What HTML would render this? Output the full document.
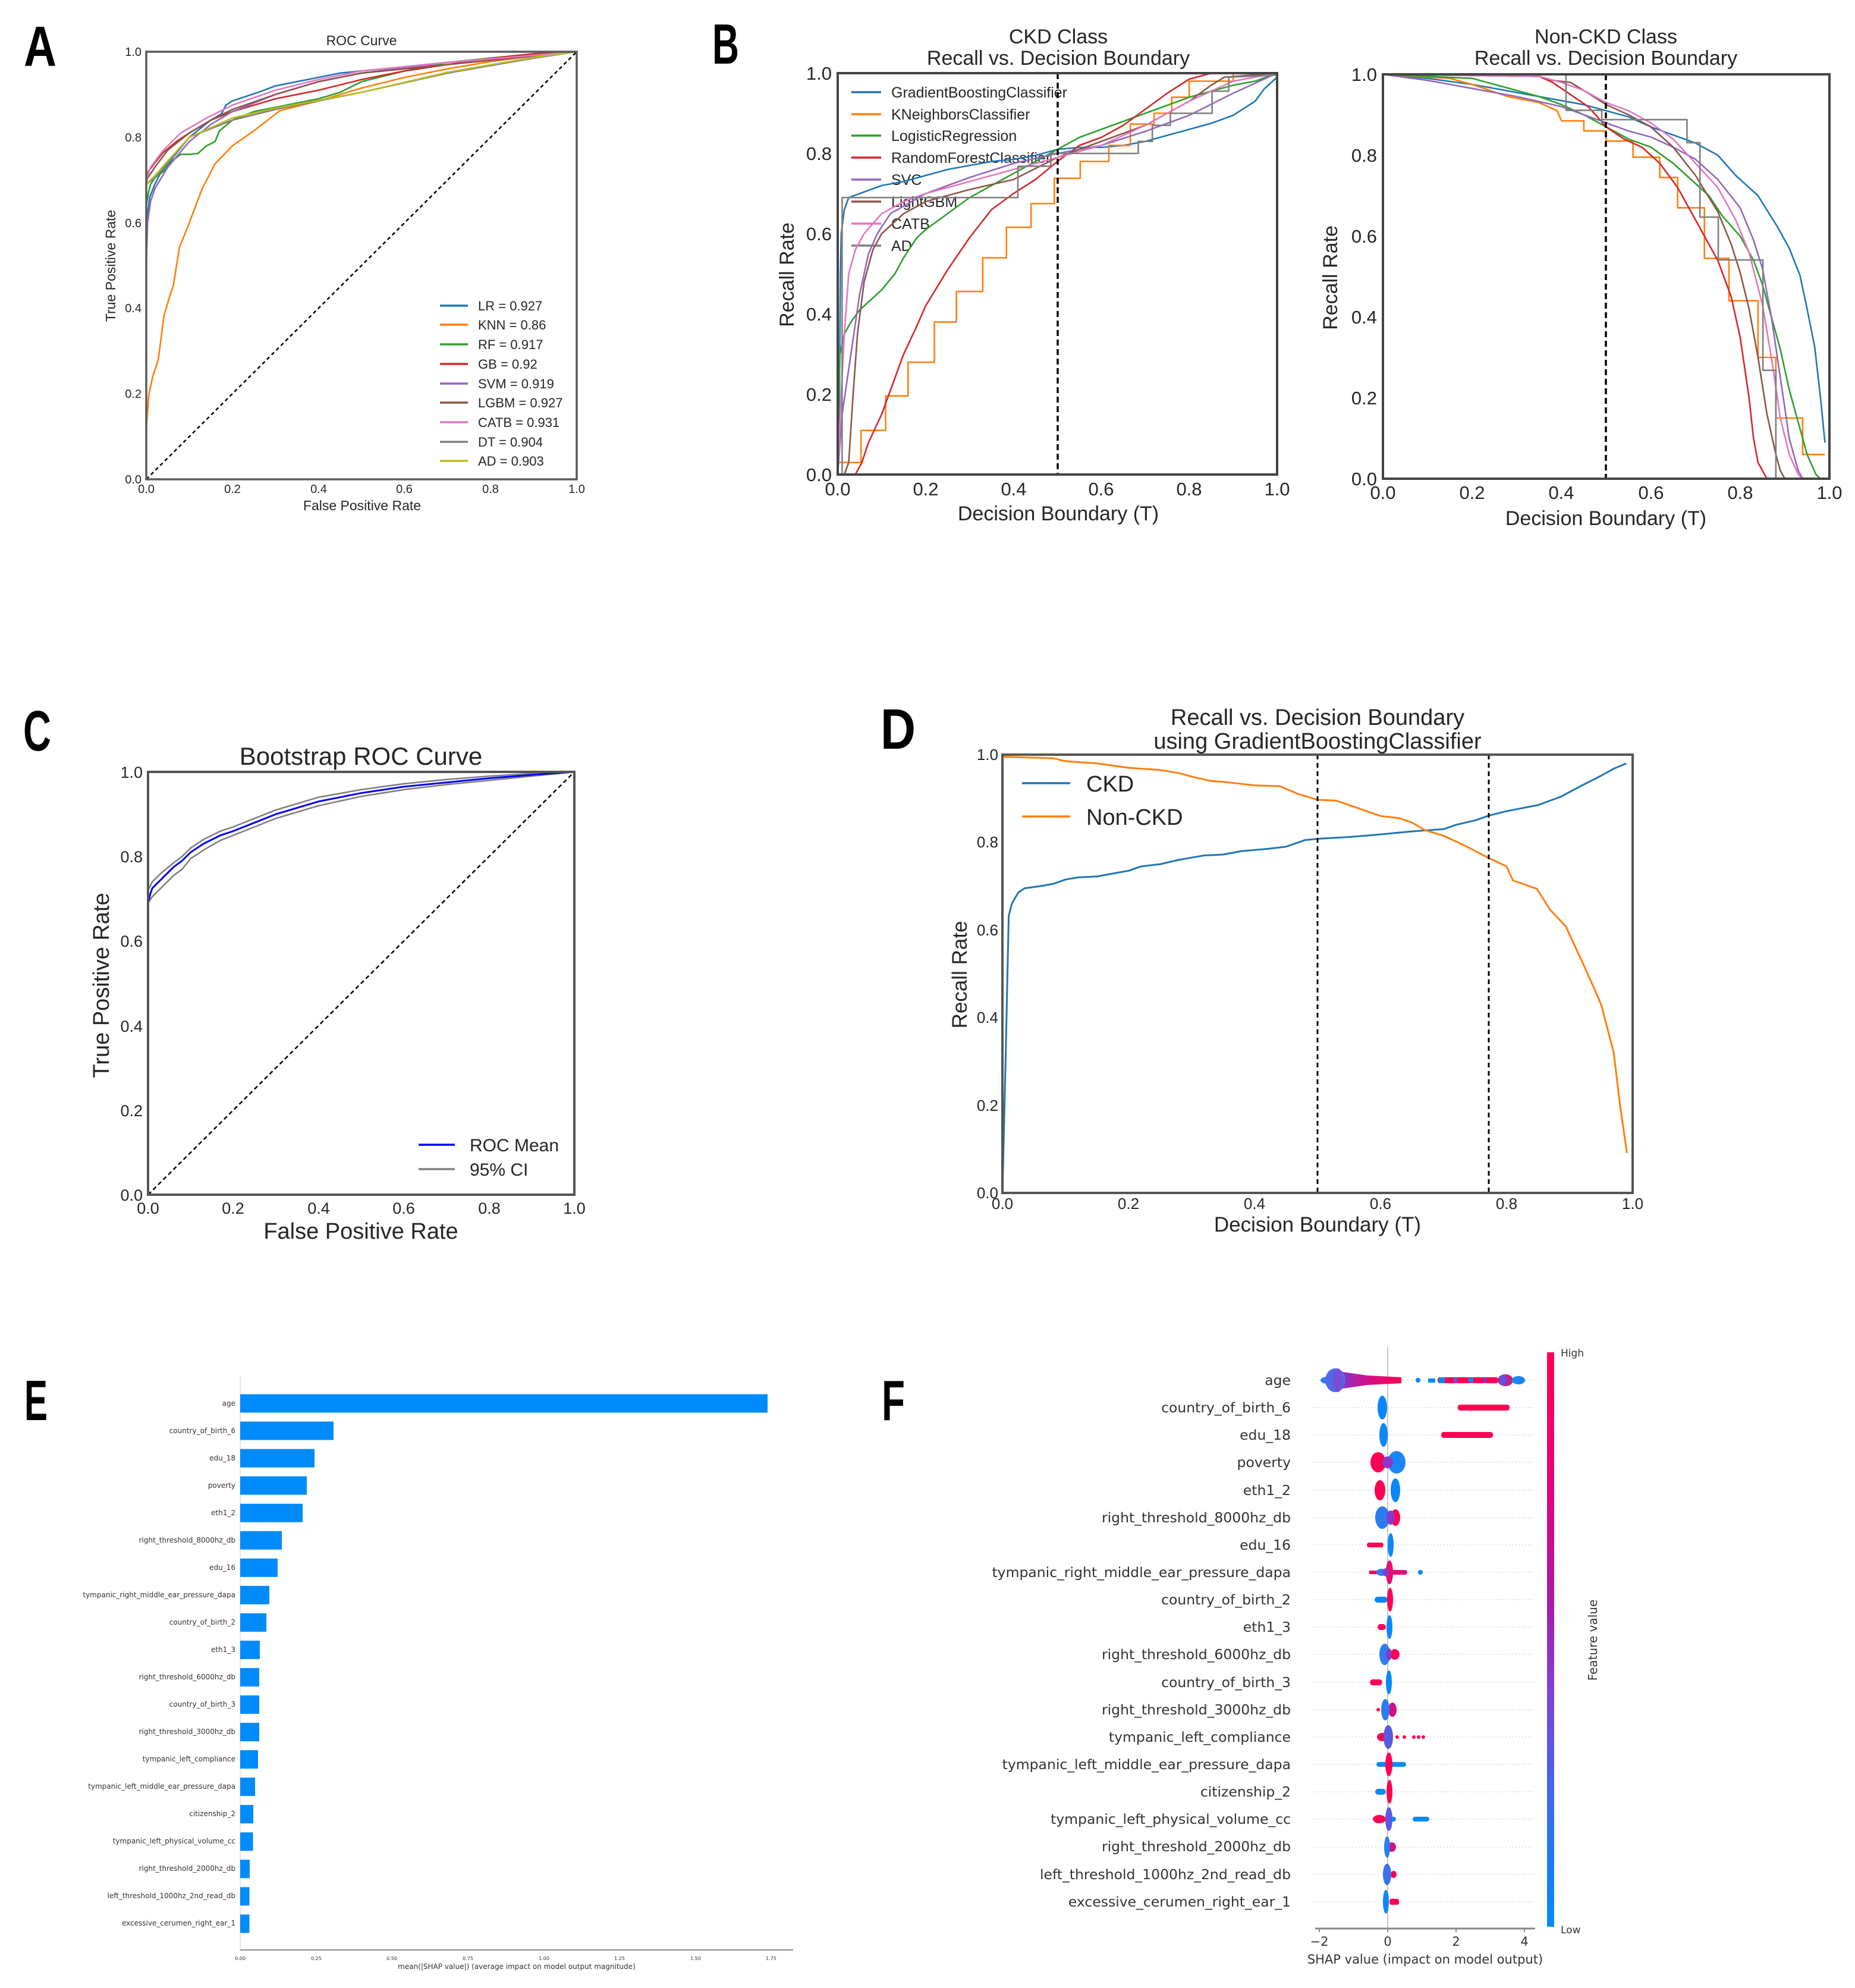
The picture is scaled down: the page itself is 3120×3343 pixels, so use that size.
<!DOCTYPE html>
<html><head><meta charset="utf-8"><style>
html,body{margin:0;padding:0;background:#fff;}
svg{display:block;}
.t{font-family:"Liberation Sans",Arial,sans-serif;fill:#262626;}
.d{font-family:"DejaVu Sans","Liberation Sans",sans-serif;fill:#333;}
.L{font-family:"Liberation Sans",Arial,sans-serif;fill:#000;font-size:96px;font-weight:bold;}
.c{fill:none;stroke-width:2.6;stroke-linejoin:round;vector-effect:non-scaling-stroke;}
</style></head><body>
<svg width="3120" height="3343" viewBox="0 0 3120 3343" xmlns="http://www.w3.org/2000/svg">
<defs>
<linearGradient id="cb" x1="0" y1="0" x2="0" y2="1">
<stop offset="0" stop-color="#ff0052"/><stop offset="0.25" stop-color="#e4007f"/><stop offset="0.45" stop-color="#a41cb0"/><stop offset="0.6" stop-color="#7b45d8"/><stop offset="0.78" stop-color="#3d6bf0"/><stop offset="1" stop-color="#008bfb"/>
</linearGradient>
<linearGradient id="tail" x1="0" y1="0" x2="1" y2="0">
<stop offset="0" stop-color="#8a2fc8"/><stop offset="0.4" stop-color="#d0108a"/><stop offset="1" stop-color="#ff0052"/>
</linearGradient>
</defs>
<rect width="3120" height="3343" fill="#fff"/>

<!-- Panel letters -->
<text class="L" x="40" y="111" textLength="55" lengthAdjust="spacingAndGlyphs">A</text>
<text class="L" x="1198" y="107" textLength="45" lengthAdjust="spacingAndGlyphs">B</text>
<text class="L" x="39" y="1262" textLength="47" lengthAdjust="spacingAndGlyphs">C</text>
<text class="L" x="1481" y="1259" textLength="59" lengthAdjust="spacingAndGlyphs">D</text>
<text class="L" x="41" y="2388" textLength="39" lengthAdjust="spacingAndGlyphs">E</text>
<text class="L" x="1483" y="2388" textLength="39" lengthAdjust="spacingAndGlyphs">F</text>

<!-- ================= PANEL A ================= -->
<text class="t" x="608" y="76" font-size="23" text-anchor="middle">ROC Curve</text>
<g class="t" font-size="20" fill="#444">
<text x="238" y="813" text-anchor="end">0.0</text>
<text x="238" y="669" text-anchor="end">0.2</text>
<text x="238" y="525" text-anchor="end">0.4</text>
<text x="238" y="382" text-anchor="end">0.6</text>
<text x="238" y="238" text-anchor="end">0.8</text>
<text x="238" y="94" text-anchor="end">1.0</text>
<text x="246" y="829" text-anchor="middle">0.0</text>
<text x="391" y="829" text-anchor="middle">0.2</text>
<text x="536" y="829" text-anchor="middle">0.4</text>
<text x="680" y="829" text-anchor="middle">0.6</text>
<text x="825" y="829" text-anchor="middle">0.8</text>
<text x="970" y="829" text-anchor="middle">1.0</text>
</g>
<text class="t" x="609" y="858" font-size="23" text-anchor="middle">False Positive Rate</text>
<text class="t" transform="translate(194,447) rotate(-90)" font-size="23" text-anchor="middle">True Positive Rate</text>
<g transform="translate(246,806) scale(0.724,-0.719)">
<polyline class="c" stroke="#1f77b4" points="0,550 3,620 8,660 20,690 35,720 60,750 100,800 150,840 175,855 185,875 200,885 230,895 260,905 300,920 350,930 400,940 450,950 500,955 600,965 700,975 800,985 900,995 1000,1000"/>
<polyline class="c" stroke="#ff7f0e" points="0,118 6,198 15,240 28,280 41,382 55,430 63,454 77,542 100,600 130,680 160,738 200,780 250,815 310,862 400,885 500,915 600,940 700,960 800,977 900,990 1000,1000"/>
<polyline class="c" stroke="#2ca02c" points="0,640 5,670 10,690 20,705 40,720 60,745 80,760 100,760 120,762 140,780 160,790 170,815 200,840 250,860 300,870 400,890 450,905 500,930 600,955 700,975 800,985 900,995 1000,1000"/>
<polyline class="c" stroke="#d62728" points="0,690 5,720 20,740 40,765 70,790 100,810 150,840 200,860 300,890 400,910 500,935 600,955 700,970 800,985 900,995 1000,1000"/>
<polyline class="c" stroke="#9467bd" points="0,500 3,600 10,650 20,680 50,730 100,790 150,830 200,860 300,900 400,930 500,950 700,975 1000,1000"/>
<polyline class="c" stroke="#8c564b" points="0,700 10,715 20,730 50,770 100,810 150,840 200,865 300,900 400,930 500,950 700,970 1000,1000"/>
<polyline class="c" stroke="#e377c2" points="0,700 10,730 40,770 80,810 140,845 200,875 300,910 400,935 500,955 700,975 1000,1000"/>
<polyline class="c" stroke="#7f7f7f" points="0,690 20,705 50,740 100,800 200,840 300,865 500,905 700,950 900,985 1000,1000"/>
<polyline class="c" stroke="#bcbd22" points="0,690 20,710 50,745 100,800 200,845 300,868 500,905 700,952 900,987 1000,1000"/>
</g>
<line x1="246" y1="806" x2="970" y2="87" stroke="#000" stroke-width="2.5" stroke-dasharray="6,5"/>
<g stroke-width="3.5">
<line x1="740" y1="514" x2="787" y2="514" stroke="#1f77b4"/>
<line x1="740" y1="546" x2="787" y2="546" stroke="#ff7f0e"/>
<line x1="740" y1="579" x2="787" y2="579" stroke="#2ca02c"/>
<line x1="740" y1="612" x2="787" y2="612" stroke="#d62728"/>
<line x1="740" y1="645" x2="787" y2="645" stroke="#9467bd"/>
<line x1="740" y1="677" x2="787" y2="677" stroke="#8c564b"/>
<line x1="740" y1="710" x2="787" y2="710" stroke="#e377c2"/>
<line x1="740" y1="743" x2="787" y2="743" stroke="#7f7f7f"/>
<line x1="740" y1="775" x2="787" y2="775" stroke="#bcbd22"/>
</g>
<g class="t" font-size="22" fill="#333">
<text x="804" y="522">LR = 0.927</text>
<text x="804" y="554">KNN = 0.86</text>
<text x="804" y="587">RF = 0.917</text>
<text x="804" y="620">GB = 0.92</text>
<text x="804" y="653">SVM = 0.919</text>
<text x="804" y="685">LGBM = 0.927</text>
<text x="804" y="718">CATB = 0.931</text>
<text x="804" y="751">DT = 0.904</text>
<text x="804" y="783">AD = 0.903</text>
</g>
<rect x="246" y="87" width="724" height="719" fill="none" stroke="#5a5a5a" stroke-width="3.5"/>

<!-- ================= PANEL B left ================= -->
<text class="t" x="1780" y="73" font-size="34" text-anchor="middle">CKD Class</text>
<text class="t" x="1780" y="109" font-size="34" text-anchor="middle">Recall vs. Decision Boundary</text>
<g class="t" font-size="31" fill="#333">
<text x="1399" y="809" text-anchor="end">0.0</text>
<text x="1399" y="674" text-anchor="end">0.2</text>
<text x="1399" y="539" text-anchor="end">0.4</text>
<text x="1399" y="404" text-anchor="end">0.6</text>
<text x="1399" y="269" text-anchor="end">0.8</text>
<text x="1399" y="134" text-anchor="end">1.0</text>
<text x="1409" y="833" text-anchor="middle">0.0</text>
<text x="1557" y="833" text-anchor="middle">0.2</text>
<text x="1705" y="833" text-anchor="middle">0.4</text>
<text x="1852" y="833" text-anchor="middle">0.6</text>
<text x="2000" y="833" text-anchor="middle">0.8</text>
<text x="2148" y="833" text-anchor="middle">1.0</text>
</g>
<text class="t" x="1780" y="875" font-size="34" text-anchor="middle">Decision Boundary (T)</text>
<text class="t" transform="translate(1335,462) rotate(-90)" font-size="34" text-anchor="middle">Recall Rate</text>
<g class="t" font-size="25" fill="#333">
<text x="1499" y="164">GradientBoostingClassifier</text>
<text x="1499" y="201">KNeighborsClassifier</text>
<text x="1499" y="237">LogisticRegression</text>
<text x="1499" y="274">RandomForestClassifier</text>
<text x="1499" y="311">SVC</text>
<text x="1499" y="348">LightGBM</text>
<text x="1499" y="385">CATB</text>
<text x="1499" y="422">AD</text>
</g>
<g stroke-width="3.5">
<line x1="1432" y1="155" x2="1482" y2="155" stroke="#1f77b4"/>
<line x1="1432" y1="192" x2="1482" y2="192" stroke="#ff7f0e"/>
<line x1="1432" y1="228" x2="1482" y2="228" stroke="#2ca02c"/>
<line x1="1432" y1="265" x2="1482" y2="265" stroke="#d62728"/>
<line x1="1432" y1="302" x2="1482" y2="302" stroke="#9467bd"/>
<line x1="1432" y1="339" x2="1482" y2="339" stroke="#8c564b"/>
<line x1="1432" y1="376" x2="1482" y2="376" stroke="#e377c2"/>
<line x1="1432" y1="413" x2="1482" y2="413" stroke="#7f7f7f"/>
</g>
<g transform="translate(1409,798) scale(0.739,-0.675)">
<polyline class="c" stroke="#1f77b4" points="0,0 4,200 6,500 8,600 15,660 25,690 50,700 100,720 150,730 200,745 250,760 300,770 350,780 400,785 450,795 500,810 550,815 600,815 650,820 700,830 750,845 800,860 850,875 900,895 950,930 970,960 1000,990"/>
<polyline class="c" stroke="#ff7f0e" points="0,30 53,30 53,110 109,110 109,196 160,196 160,280 220,280 220,380 270,380 270,456 330,456 330,540 384,540 384,616 440,616 440,675 493,675 493,738 552,738 552,780 617,780 617,820 666,820 666,873 720,873 720,900 760,900 760,940 800,940 800,980 900,980 900,1000 1000,1000"/>
<polyline class="c" stroke="#2ca02c" points="0,0 3,200 5,300 15,350 30,380 50,410 80,440 100,460 130,500 150,540 180,590 200,610 250,650 300,690 350,720 400,750 450,780 500,810 550,840 600,860 650,880 700,900 750,920 800,940 850,955 900,970 950,980 1000,1000"/>
<polyline class="c" stroke="#d62728" points="40,0 55,30 70,80 100,150 130,240 150,300 180,370 200,420 250,510 300,590 350,660 400,700 450,735 500,780 550,820 600,840 650,870 700,910 750,950 800,985 850,1000 1000,1000"/>
<polyline class="c" stroke="#9467bd" points="0,0 10,150 30,300 50,450 70,550 90,600 120,650 200,700 300,740 400,775 500,800 600,820 700,855 800,895 900,950 1000,1000"/>
<polyline class="c" stroke="#8c564b" points="15,0 25,30 35,200 45,350 60,480 80,560 100,600 150,650 200,680 300,710 400,735 500,790 600,830 700,870 800,930 850,970 880,990 1000,1000"/>
<polyline class="c" stroke="#e377c2" points="0,0 8,200 15,350 25,500 40,560 60,600 100,650 150,680 200,700 300,730 400,760 500,790 600,820 700,870 800,930 900,980 1000,1000"/>
<polyline class="c" stroke="#7f7f7f" points="10,0 10,690 410,690 410,768 485,768 485,800 684,800 684,830 716,830 716,870 757,870 757,900 852,900 852,955 890,955 890,990 1000,995"/>
</g>
<line x1="1779" y1="123" x2="1779" y2="798" stroke="#000" stroke-width="3.5" stroke-dasharray="10,6"/>
<rect x="1409" y="123" width="739" height="675" fill="none" stroke="#444" stroke-width="4"/>

<!-- ================= PANEL B right ================= -->
<text class="t" x="2701" y="73" font-size="34" text-anchor="middle">Non-CKD Class</text>
<text class="t" x="2701" y="109" font-size="34" text-anchor="middle">Recall vs. Decision Boundary</text>
<g class="t" font-size="31" fill="#333">
<text x="2316" y="816" text-anchor="end">0.0</text>
<text x="2316" y="680" text-anchor="end">0.2</text>
<text x="2316" y="544" text-anchor="end">0.4</text>
<text x="2316" y="408" text-anchor="end">0.6</text>
<text x="2316" y="272" text-anchor="end">0.8</text>
<text x="2316" y="136" text-anchor="end">1.0</text>
<text x="2326" y="839" text-anchor="middle">0.0</text>
<text x="2476" y="839" text-anchor="middle">0.2</text>
<text x="2626" y="839" text-anchor="middle">0.4</text>
<text x="2777" y="839" text-anchor="middle">0.6</text>
<text x="2927" y="839" text-anchor="middle">0.8</text>
<text x="3077" y="839" text-anchor="middle">1.0</text>
</g>
<text class="t" x="2701" y="883" font-size="34" text-anchor="middle">Decision Boundary (T)</text>
<text class="t" transform="translate(2249,467) rotate(-90)" font-size="34" text-anchor="middle">Recall Rate</text>
<g transform="translate(2326,805) scale(0.751,-0.680)">
<polyline class="c" stroke="#1f77b4" points="0,1000 100,990 200,975 300,955 400,935 450,925 500,910 550,895 600,870 650,850 700,830 750,800 790,750 840,700 884,622 910,570 934,503 950,420 967,326 980,200 990,89"/>
<polyline class="c" stroke="#ff7f0e" points="0,1000 150,990 200,975 280,945 350,930 390,910 400,885 450,885 450,860 500,860 500,835 560,835 560,795 620,795 620,745 660,745 660,670 720,670 720,545 775,545 775,440 840,440 840,300 880,300 880,150 940,150 940,60 990,60"/>
<polyline class="c" stroke="#2ca02c" points="0,1000 200,990 250,975 300,960 350,945 400,925 450,900 500,870 550,840 600,820 650,780 700,730 730,700 760,650 800,600 830,540 850,480 870,400 890,320 910,220 930,140 950,60 970,10 980,0"/>
<polyline class="c" stroke="#d62728" points="0,1000 350,995 380,980 420,950 460,920 500,870 540,840 580,820 620,780 660,720 700,640 730,580 750,540 780,450 800,350 820,200 830,100 840,40 860,0"/>
<polyline class="c" stroke="#9467bd" points="0,1000 100,985 200,965 300,945 400,920 450,900 500,880 550,860 600,845 650,820 700,790 750,740 800,670 830,590 850,520 870,400 890,250 910,100 930,20 940,0"/>
<polyline class="c" stroke="#8c564b" points="0,1000 350,995 380,985 420,980 450,960 500,925 550,900 600,870 650,820 700,750 750,660 780,580 800,510 820,420 840,300 860,160 880,60 890,20 900,0"/>
<polyline class="c" stroke="#e377c2" points="0,1000 350,995 400,980 450,960 500,930 550,910 600,880 650,840 700,780 750,720 790,640 820,560 850,430 870,300 890,150 910,60 930,10 940,0"/>
<polyline class="c" stroke="#7f7f7f" points="0,1000 410,1000 410,911 490,911 490,888 681,888 681,831 710,831 710,647 751,647 751,541 851,541 851,268 880,268 880,0"/>
</g>
<line x1="2701" y1="125" x2="2701" y2="805" stroke="#000" stroke-width="3.5" stroke-dasharray="10,6"/>
<rect x="2326" y="125" width="751" height="680" fill="none" stroke="#444" stroke-width="4"/>

<!-- ================= PANEL C ================= -->
<text class="t" x="607" y="1286" font-size="42" text-anchor="middle">Bootstrap ROC Curve</text>
<g class="t" font-size="27" fill="#333">
<text x="240" y="2019" text-anchor="end">0.0</text>
<text x="240" y="1877" text-anchor="end">0.2</text>
<text x="240" y="1735" text-anchor="end">0.4</text>
<text x="240" y="1592" text-anchor="end">0.6</text>
<text x="240" y="1450" text-anchor="end">0.8</text>
<text x="240" y="1308" text-anchor="end">1.0</text>
<text x="249" y="2041" text-anchor="middle">0.0</text>
<text x="392" y="2041" text-anchor="middle">0.2</text>
<text x="536" y="2041" text-anchor="middle">0.4</text>
<text x="679" y="2041" text-anchor="middle">0.6</text>
<text x="823" y="2041" text-anchor="middle">0.8</text>
<text x="966" y="2041" text-anchor="middle">1.0</text>
</g>
<text class="t" x="607" y="2083" font-size="38" text-anchor="middle">False Positive Rate</text>
<text class="t" transform="translate(183,1657) rotate(-90)" font-size="38" text-anchor="middle">True Positive Rate</text>
<g transform="translate(249,2009) scale(0.717,-0.711)">
<polyline class="c" stroke="#808080" points="0,720 10,740 30,760 60,785 80,800 100,820 130,840 170,860 200,870 250,890 300,910 400,940 500,958 600,972 700,982 800,990 900,996 1000,1000"/>
<polyline class="c" stroke="#808080" points="0,690 10,705 30,725 60,755 80,770 100,795 130,815 170,838 200,850 250,870 300,890 400,920 500,942 600,958 700,970 800,980 900,990 1000,1000"/>
<polyline class="c" stroke="#0000ff" style="stroke-width:3" points="0,690 5,710 10,725 20,735 40,755 60,775 80,790 100,810 130,830 170,850 200,860 250,880 300,900 350,915 400,930 450,940 500,950 600,965 700,975 800,985 900,993 1000,1000"/>
</g>
<line x1="249" y1="2009" x2="966" y2="1298" stroke="#000" stroke-width="2.5" stroke-dasharray="7,5"/>
<line x1="704" y1="1925" x2="765" y2="1925" stroke="#0000ff" stroke-width="3.5"/>
<line x1="704" y1="1966" x2="765" y2="1966" stroke="#808080" stroke-width="3.5"/>
<text class="t" x="790" y="1936" font-size="30" fill="#333">ROC Mean</text>
<text class="t" x="790" y="1977" font-size="30" fill="#333">95% CI</text>
<rect x="249" y="1298" width="717" height="711" fill="none" stroke="#555" stroke-width="4"/>

<!-- ================= PANEL D ================= -->
<text class="t" x="2216" y="1219" font-size="38" text-anchor="middle">Recall vs. Decision Boundary</text>
<text class="t" x="2216" y="1259" font-size="38" text-anchor="middle">using GradientBoostingClassifier</text>
<g class="t" font-size="26" fill="#333">
<text x="1679" y="2015" text-anchor="end">0.0</text>
<text x="1679" y="1868" text-anchor="end">0.2</text>
<text x="1679" y="1720" text-anchor="end">0.4</text>
<text x="1679" y="1573" text-anchor="end">0.6</text>
<text x="1679" y="1425" text-anchor="end">0.8</text>
<text x="1679" y="1278" text-anchor="end">1.0</text>
<text x="1686" y="2033" text-anchor="middle">0.0</text>
<text x="1898" y="2033" text-anchor="middle">0.2</text>
<text x="2110" y="2033" text-anchor="middle">0.4</text>
<text x="2322" y="2033" text-anchor="middle">0.6</text>
<text x="2534" y="2033" text-anchor="middle">0.8</text>
<text x="2746" y="2033" text-anchor="middle">1.0</text>
</g>
<text class="t" x="2216" y="2071" font-size="35" text-anchor="middle">Decision Boundary (T)</text>
<text class="t" transform="translate(1626,1639) rotate(-90)" font-size="35" text-anchor="middle">Recall Rate</text>
<g transform="translate(1686,2006) scale(1.060,-0.737)">
<polyline class="c" stroke="#1f77b4" style="stroke-width:3" points="0,0 5,300 10,632 15,660 25,685 35,695 60,700 80,705 100,715 120,720 150,722 180,730 200,735 220,745 250,750 280,760 300,765 320,770 350,772 380,780 420,785 450,790 480,805 500,808 550,812 600,818 650,825 700,830 720,840 750,850 772,861 800,871 850,885 886,904 920,930 950,952 970,968 990,980"/>
<polyline class="c" stroke="#ff7f0e" style="stroke-width:3" points="0,995 80,992 100,985 150,980 200,970 250,965 280,958 300,950 330,940 350,938 400,930 440,928 470,910 500,897 530,895 560,880 600,860 630,855 650,845 670,828 700,815 730,795 772,764 800,745 810,713 848,694 869,646 894,608 928,502 950,430 970,320 980,200 991,91"/>
</g>
<line x1="2216" y1="1269" x2="2216" y2="2006" stroke="#000" stroke-width="3" stroke-dasharray="8,6"/>
<line x1="2504" y1="1269" x2="2504" y2="2006" stroke="#000" stroke-width="3" stroke-dasharray="8,6"/>
<line x1="1719" y1="1317" x2="1800" y2="1317" stroke="#1f77b4" stroke-width="3.5"/>
<line x1="1719" y1="1373" x2="1800" y2="1373" stroke="#ff7f0e" stroke-width="3.5"/>
<text class="t" x="1827" y="1331" font-size="38">CKD</text>
<text class="t" x="1827" y="1387" font-size="38">Non-CKD</text>
<rect x="1686" y="1269" width="1060" height="737" fill="none" stroke="#555" stroke-width="4"/>

<!-- ================= PANEL E ================= -->
<line x1="404" y1="2314" x2="404" y2="3279" stroke="#ddd" stroke-width="1.5"/>
<g fill="#008bfb">
<rect x="404" y="2344.5" width="887" height="31"/>
<rect x="404" y="2390.5" width="157" height="31"/>
<rect x="404" y="2436.6" width="125" height="31"/>
<rect x="404" y="2482.6" width="112" height="31"/>
<rect x="404" y="2528.7" width="105" height="31"/>
<rect x="404" y="2574.7" width="70" height="31"/>
<rect x="404" y="2620.8" width="63" height="31"/>
<rect x="404" y="2666.8" width="49" height="31"/>
<rect x="404" y="2712.9" width="44" height="31"/>
<rect x="404" y="2758.9" width="33" height="31"/>
<rect x="404" y="2805" width="32" height="31"/>
<rect x="404" y="2851" width="32" height="31"/>
<rect x="404" y="2897.1" width="32" height="31"/>
<rect x="404" y="2943.1" width="30" height="31"/>
<rect x="404" y="2989.2" width="25" height="31"/>
<rect x="404" y="3035.2" width="22" height="31"/>
<rect x="404" y="3081.3" width="21.5" height="31"/>
<rect x="404" y="3127.3" width="16" height="31"/>
<rect x="404" y="3173.4" width="15.5" height="31"/>
<rect x="404" y="3219.4" width="15.5" height="31"/>
</g>
<g class="d" font-size="12" text-anchor="end" fill="#444">
<text x="396" y="2364">age</text>
<text x="396" y="2410">country_of_birth_6</text>
<text x="396" y="2456">edu_18</text>
<text x="396" y="2502">poverty</text>
<text x="396" y="2548">eth1_2</text>
<text x="396" y="2594">right_threshold_8000hz_db</text>
<text x="396" y="2640">edu_16</text>
<text x="396" y="2686">tympanic_right_middle_ear_pressure_dapa</text>
<text x="396" y="2732">country_of_birth_2</text>
<text x="396" y="2778">eth1_3</text>
<text x="396" y="2824">right_threshold_6000hz_db</text>
<text x="396" y="2870">country_of_birth_3</text>
<text x="396" y="2916">right_threshold_3000hz_db</text>
<text x="396" y="2962">tympanic_left_compliance</text>
<text x="396" y="3008">tympanic_left_middle_ear_pressure_dapa</text>
<text x="396" y="3054">citizenship_2</text>
<text x="396" y="3100">tympanic_left_physical_volume_cc</text>
<text x="396" y="3146">right_threshold_2000hz_db</text>
<text x="396" y="3192">left_threshold_1000hz_2nd_read_db</text>
<text x="396" y="3238">excessive_cerumen_right_ear_1</text>
</g>
<line x1="404" y1="3279" x2="1334" y2="3279" stroke="#999" stroke-width="2.5"/>
<g class="d" font-size="8" text-anchor="middle" fill="#444">
<text x="404" y="3296">0.00</text>
<text x="532" y="3296">0.25</text>
<text x="659" y="3296">0.50</text>
<text x="787" y="3296">0.75</text>
<text x="915" y="3296">1.00</text>
<text x="1042" y="3296">1.25</text>
<text x="1170" y="3296">1.50</text>
<text x="1297" y="3296">1.75</text>
</g>
<text class="d" x="869" y="3311" font-size="12" text-anchor="middle" fill="#333">mean(|SHAP value|) (average impact on model output magnitude)</text>

<!-- ================= PANEL F ================= -->
<g class="d" font-size="23.5" text-anchor="end" fill="#333">
<text x="2171" y="2329">age</text>
<text x="2171" y="2375">country_of_birth_6</text>
<text x="2171" y="2421">edu_18</text>
<text x="2171" y="2467">poverty</text>
<text x="2171" y="2514">eth1_2</text>
<text x="2171" y="2560">right_threshold_8000hz_db</text>
<text x="2171" y="2606">edu_16</text>
<text x="2171" y="2652">tympanic_right_middle_ear_pressure_dapa</text>
<text x="2171" y="2698">country_of_birth_2</text>
<text x="2171" y="2744">eth1_3</text>
<text x="2171" y="2790">right_threshold_6000hz_db</text>
<text x="2171" y="2837">country_of_birth_3</text>
<text x="2171" y="2883">right_threshold_3000hz_db</text>
<text x="2171" y="2929">tympanic_left_compliance</text>
<text x="2171" y="2975">tympanic_left_middle_ear_pressure_dapa</text>
<text x="2171" y="3021">citizenship_2</text>
<text x="2171" y="3067">tympanic_left_physical_volume_cc</text>
<text x="2171" y="3113">right_threshold_2000hz_db</text>
<text x="2171" y="3160">left_threshold_1000hz_2nd_read_db</text>
<text x="2171" y="3206">excessive_cerumen_right_ear_1</text>
</g>
<g stroke="#ccc" stroke-width="1.5" stroke-dasharray="1.5,4">
<line x1="2208" y1="2321" x2="2580" y2="2321"/><line x1="2208" y1="2367" x2="2580" y2="2367"/>
<line x1="2208" y1="2413" x2="2580" y2="2413"/><line x1="2208" y1="2459" x2="2580" y2="2459"/>
<line x1="2208" y1="2506" x2="2580" y2="2506"/><line x1="2208" y1="2552" x2="2580" y2="2552"/>
<line x1="2208" y1="2598" x2="2580" y2="2598"/><line x1="2208" y1="2644" x2="2580" y2="2644"/>
<line x1="2208" y1="2690" x2="2580" y2="2690"/><line x1="2208" y1="2736" x2="2580" y2="2736"/>
<line x1="2208" y1="2782" x2="2580" y2="2782"/><line x1="2208" y1="2829" x2="2580" y2="2829"/>
<line x1="2208" y1="2875" x2="2580" y2="2875"/><line x1="2208" y1="2921" x2="2580" y2="2921"/>
<line x1="2208" y1="2967" x2="2580" y2="2967"/><line x1="2208" y1="3013" x2="2580" y2="3013"/>
<line x1="2208" y1="3059" x2="2580" y2="3059"/><line x1="2208" y1="3106" x2="2580" y2="3106"/>
<line x1="2208" y1="3152" x2="2580" y2="3152"/><line x1="2208" y1="3198" x2="2580" y2="3198"/>
</g>
<line x1="2334" y1="2265" x2="2334" y2="3243" stroke="#c8c8c8" stroke-width="2"/>
<!-- age -->
<ellipse cx="2232" cy="2321" rx="11" ry="6" fill="#2c7ef2"/>
<polygon points="2258,2307 2300,2313 2357,2316 2357,2326 2300,2329 2258,2335" fill="url(#tail)"/>
<ellipse cx="2246" cy="2321" rx="17" ry="20" fill="#4d6ae8"/>
<ellipse cx="2250" cy="2321" rx="8" ry="20" fill="#7a4fd8"/>
<circle cx="2385" cy="2321" r="4" fill="#008bfb"/>
<rect x="2402" y="2318" width="12" height="7" fill="#008bfb"/>
<rect x="2418" y="2316" width="102" height="10" rx="4" fill="#ff0052"/>
<rect x="2420" y="2316" width="10" height="10" fill="#008bfb"/>
<rect x="2445" y="2317" width="6" height="8" fill="#5a5ae0"/>
<rect x="2470" y="2317" width="8" height="8" fill="#008bfb"/>
<rect x="2495" y="2317" width="5" height="8" fill="#7040d8"/>
<ellipse cx="2532" cy="2321" rx="13" ry="10" fill="#c0208a"/>
<ellipse cx="2528" cy="2321" rx="6" ry="9" fill="#6050e0"/>
<ellipse cx="2554" cy="2321" rx="11" ry="7" fill="#1b86f8"/>
<!-- cob6 -->
<ellipse cx="2325" cy="2367" rx="8" ry="20" fill="#0a88fa"/>
<rect x="2452" y="2362" width="87" height="10" rx="4" fill="#ff0052"/>
<!-- edu18 -->
<ellipse cx="2327" cy="2413" rx="7" ry="20" fill="#0a88fa"/>
<rect x="2424" y="2408" width="87" height="10" rx="4" fill="#ff0052"/>
<!-- poverty -->
<ellipse cx="2318" cy="2459" rx="13" ry="17" fill="#ff0052"/>
<ellipse cx="2349" cy="2459" rx="15" ry="19" fill="#1a86f8"/>
<ellipse cx="2334" cy="2459" rx="9" ry="10" fill="#8a38c8"/>
<!-- eth1_2 -->
<ellipse cx="2321" cy="2506" rx="9" ry="17" fill="#ff0052"/>
<ellipse cx="2347" cy="2506" rx="8" ry="20" fill="#0a88fa"/>
<!-- r8000 -->
<ellipse cx="2347" cy="2552" rx="8" ry="14" fill="#ff0052"/>
<ellipse cx="2325" cy="2552" rx="12" ry="19" fill="#2a7ef2"/>
<ellipse cx="2339" cy="2552" rx="7" ry="12" fill="#8a38c8"/>
<!-- edu16 -->
<rect x="2299" y="2594" width="28" height="8" rx="4" fill="#ff0052"/>
<ellipse cx="2339" cy="2598" rx="5" ry="20" fill="#0a88fa"/>
<!-- trmep -->
<rect x="2303" y="2641" width="14" height="6" fill="#ff0052"/>
<ellipse cx="2324" cy="2644" rx="9" ry="6" fill="#2a7ef2"/>
<rect x="2338" y="2640" width="29" height="8" rx="4" fill="#e0107a"/>
<ellipse cx="2337" cy="2644" rx="6" ry="20" fill="#ec0a6c"/>
<ellipse cx="2331" cy="2644" rx="5" ry="7" fill="#8a38c8"/>
<circle cx="2389" cy="2644" r="4" fill="#008bfb"/>
<!-- cob2 -->
<rect x="2312" y="2685" width="22" height="10" rx="5" fill="#0a88fa"/>
<ellipse cx="2338" cy="2690" rx="5" ry="20" fill="#ff0052"/>
<!-- eth1_3 -->
<rect x="2317" y="2731" width="14" height="10" rx="5" fill="#ff0052"/>
<ellipse cx="2337" cy="2736" rx="5" ry="20" fill="#0a88fa"/>
<!-- r6000 -->
<ellipse cx="2346" cy="2782" rx="8" ry="9" fill="#ff0052"/>
<ellipse cx="2329" cy="2782" rx="9" ry="18" fill="#2a7ef2"/>
<ellipse cx="2336" cy="2782" rx="5" ry="10" fill="#8a38c8"/>
<!-- cob3 -->
<rect x="2304" y="2824" width="21" height="10" rx="5" fill="#ff0052"/>
<ellipse cx="2336" cy="2829" rx="5" ry="20" fill="#0a88fa"/>
<!-- r3000 -->
<circle cx="2318" cy="2875" r="3" fill="#ff0052"/>
<ellipse cx="2342" cy="2875" rx="7" ry="12" fill="#d0108a"/>
<ellipse cx="2330" cy="2875" rx="7" ry="18" fill="#2a7ef2"/>
<!-- tlc -->
<ellipse cx="2325" cy="2921" rx="9" ry="7" fill="#ff0052"/>
<ellipse cx="2335" cy="2921" rx="8" ry="20" fill="#5a5ae0"/>
<circle cx="2350" cy="2921" r="3" fill="#ff0052"/><circle cx="2362" cy="2921" r="3" fill="#ff0052"/>
<circle cx="2378" cy="2921" r="3" fill="#ff0052"/><circle cx="2386" cy="2921" r="3" fill="#ff0052"/><circle cx="2394" cy="2921" r="3" fill="#ff0052"/>
<!-- tlmep -->
<rect x="2315" y="2963" width="50" height="8" rx="4" fill="#0a88fa"/>
<ellipse cx="2336" cy="2967" rx="6" ry="20" fill="#ff0052"/>
<!-- cit2 -->
<rect x="2313" y="3008" width="18" height="10" rx="5" fill="#0a88fa"/>
<ellipse cx="2337" cy="3013" rx="5" ry="20" fill="#ff0052"/>
<!-- tlpv -->
<ellipse cx="2320" cy="3059" rx="11" ry="7" fill="#ff0052"/>
<rect x="2336" y="3055" width="12" height="8" rx="4" fill="#0a88fa"/>
<ellipse cx="2336" cy="3059" rx="6" ry="20" fill="#5a5ae0"/>
<rect x="2376" y="3055" width="28" height="8" rx="4" fill="#0a88fa"/>
<!-- r2000 -->
<ellipse cx="2341" cy="3106" rx="7" ry="8" fill="#d0108a"/>
<ellipse cx="2333" cy="3106" rx="5" ry="18" fill="#2a7ef2"/>
<!-- l1000 -->
<ellipse cx="2344" cy="3152" rx="5" ry="6" fill="#ff0052"/>
<ellipse cx="2333" cy="3152" rx="7" ry="18" fill="#3a72ee"/>
<!-- exc -->
<rect x="2337" y="3193" width="16" height="10" rx="3" fill="#ff0052"/>
<ellipse cx="2331" cy="3198" rx="5" ry="20" fill="#0a88fa"/>
<!-- F axis -->
<line x1="2212" y1="3243" x2="2582" y2="3243" stroke="#888" stroke-width="3"/>
<g stroke="#888" stroke-width="2">
<line x1="2219" y1="3243" x2="2219" y2="3249"/><line x1="2334" y1="3243" x2="2334" y2="3249"/>
<line x1="2449" y1="3243" x2="2449" y2="3249"/><line x1="2564" y1="3243" x2="2564" y2="3249"/>
</g>
<g class="d" font-size="21" text-anchor="middle" fill="#333">
<text x="2219" y="3272">−2</text>
<text x="2334" y="3272">0</text>
<text x="2449" y="3272">2</text>
<text x="2564" y="3272">4</text>
</g>
<text class="d" x="2397" y="3302" font-size="21" text-anchor="middle" fill="#222">SHAP value (impact on model output)</text>
<rect x="2602" y="2274" width="12" height="966" fill="url(#cb)"/>
<text class="d" x="2625" y="2281" font-size="17" fill="#333">High</text>
<text class="d" x="2625" y="3251" font-size="17" fill="#333">Low</text>
<text class="d" transform="translate(2686,2758) rotate(-90)" font-size="20" text-anchor="middle" fill="#333">Feature value</text>
</svg>
</body></html>
